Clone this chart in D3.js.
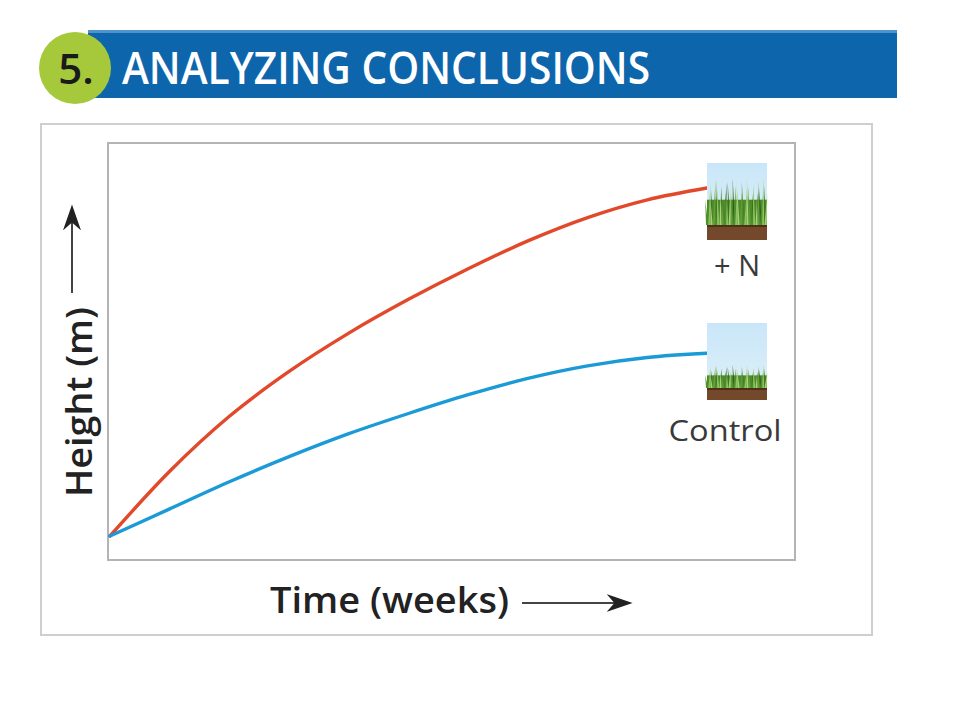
<!DOCTYPE html>
<html>
<head>
<meta charset="utf-8">
<script src="https://cdn.jsdelivr.net/npm/d3@7"></script>
<style>
  body { margin: 0; background: #fff; }
  svg { display: block; font-family: "Open Sans", "DejaVu Sans", sans-serif; }
</style>
</head>
<body>
<svg id="chart" width="960" height="720"></svg>
<script>
// Données (unités arbitraires)
const weeks = [0, 1, 2, 3, 4, 5, 6, 7, 8, 9, 10];
const heightNitrogen = [0, 1.86, 3.44, 4.73, 5.83, 6.8, 7.68, 8.48, 9.15, 9.66, 10];
const heightControl = [0, 0.78, 1.56, 2.28, 2.94, 3.52, 4.06, 4.53, 4.89, 5.13, 5.25];
const seriesNames = ['+N', 'Control'];
const seriesColors = ['#e2492a', '#1b9ad8'];

const svg = d3.select('#chart');
const defs = svg.append('defs');

// Bandeau de titre
svg.append('rect')
  .attr('x', 88).attr('y', 30).attr('width', 809).attr('height', 68)
  .attr('fill', '#0d66ac');
svg.append('rect')
  .attr('x', 88).attr('y', 30).attr('width', 809).attr('height', 3)
  .attr('fill', '#4f93c9');
svg.append('circle')
  .attr('cx', 75).attr('cy', 68).attr('r', 36)
  .attr('fill', '#a6c93c');
svg.append('text')
  .attr('x', 76).attr('y', 84)
  .attr('text-anchor', 'middle')
  .attr('font-size', 42).attr('font-weight', 600)
  .attr('fill', '#1a1a1a')
  .text('5.');
svg.append('text')
  .attr('x', 122).attr('y', 84)
  .attr('font-size', 45).attr('font-weight', 600)
  .attr('fill', '#fff')
  .attr('textLength', 528).attr('lengthAdjust', 'spacingAndGlyphs')
  .text('ANALYZING CONCLUSIONS');

// Cadre extérieur et cadre du graphe
svg.append('rect')
  .attr('x', 41).attr('y', 124).attr('width', 831).attr('height', 511)
  .attr('fill', '#fff').attr('stroke', '#cfcfcf').attr('stroke-width', 2);

const frame = { left: 108, top: 143, right: 795, bottom: 560 };
svg.append('rect')
  .attr('x', frame.left).attr('y', frame.top)
  .attr('width', frame.right - frame.left).attr('height', frame.bottom - frame.top)
  .attr('fill', '#fff').attr('stroke', '#b4b4b4').attr('stroke-width', 2);

// Échelles
const x = d3.scaleLinear().domain([0, 10]).range([110, 707]);
const y = d3.scaleLinear().domain([0, 10]).range([536, 188]);

const line = d3.line()
  .x((d, i) => x(weeks[i]))
  .y(d => y(d))
  .curve(d3.curveMonotoneX);

[heightNitrogen, heightControl].forEach((values, i) => {
  svg.append('path')
    .datum(values)
    .attr('d', line)
    .attr('fill', 'none')
    .attr('stroke', seriesColors[i])
    .attr('stroke-width', 3.4)
    .attr('stroke-linecap', 'round');
});

// Vignettes d'herbe (décor)
const sky = defs.append('linearGradient')
  .attr('id', 'sky').attr('x1', 0).attr('y1', 0).attr('x2', 0).attr('y2', 1);
sky.append('stop').attr('offset', 0).attr('stop-color', '#c9e6f8');
sky.append('stop').attr('offset', 1).attr('stop-color', '#dceff9');

const bladeColors = ['#4f8f2e', '#8cc35a', '#3b7222', '#a9d277', '#629f3a', '#2f6119'];

function grassTile(x0, y0, skyH, grassH, soilH) {
  const g = svg.append('g').attr('transform', `translate(${x0},${y0})`);
  const base = skyH + grassH;
  g.append('rect').attr('width', 60).attr('height', base).attr('fill', 'url(#sky)');
  g.append('rect').attr('y', base - grassH * 0.55).attr('width', 60).attr('height', grassH * 0.55)
    .attr('fill', '#4e8a2c');
  d3.range(40).forEach(k => {
    const bx = (k * 1.5 + (k % 3) * 0.7) % 60;
    const h = grassH * (0.55 + 0.45 * (((k * 7) % 10) / 9));
    const lean = ((k * 5) % 7) - 3;
    g.append('path')
      .attr('d', `M${bx - 1} ${base} L${bx + lean * 0.6} ${base - h} L${bx + 1.2} ${base} Z`)
      .attr('fill', bladeColors[k % bladeColors.length]);
  });
  g.append('rect').attr('y', base).attr('width', 60).attr('height', soilH).attr('fill', '#74482a');
  g.append('rect').attr('y', base).attr('width', 60).attr('height', 2).attr('fill', '#4e301a');
}
grassTile(707, 163, 16, 46, 15);
grassTile(707, 323, 42, 23, 12);

svg.append('text')
  .attr('x', 737).attr('y', 276)
  .attr('text-anchor', 'middle')
  .attr('font-size', 29).attr('fill', '#3a3a3a')
  .attr('textLength', 46).attr('lengthAdjust', 'spacing')
  .text(seriesNames[0]);
svg.append('text')
  .attr('x', 725).attr('y', 441)
  .attr('text-anchor', 'middle')
  .attr('font-size', 29).attr('fill', '#3a3a3a')
  .attr('textLength', 113).attr('lengthAdjust', 'spacingAndGlyphs')
  .text(seriesNames[1]);

// Flèches
defs.append('marker')
  .attr('id', 'arrow')
  .attr('viewBox', '0 0 10 10')
  .attr('refX', 9).attr('refY', 5)
  .attr('markerWidth', 26).attr('markerHeight', 18)
  .attr('markerUnits', 'userSpaceOnUse')
  .attr('orient', 'auto')
  .attr('preserveAspectRatio', 'none')
  .append('path').attr('d', 'M0 0 L10 5 L0 10 L3 5 Z').attr('fill', '#222');

// Titres des axes
svg.append('text')
  .attr('transform', 'translate(92,402) rotate(-90)')
  .attr('text-anchor', 'middle')
  .attr('font-size', 36).attr('font-weight', 600)
  .attr('fill', '#222')
  .attr('textLength', 190).attr('lengthAdjust', 'spacingAndGlyphs')
  .text('Height (m)');
svg.append('line')
  .attr('x1', 72).attr('y1', 293).attr('x2', 72).attr('y2', 207)
  .attr('stroke', '#444').attr('stroke-width', 2)
  .attr('marker-end', 'url(#arrow)');

svg.append('text')
  .attr('x', 270).attr('y', 613)
  .attr('font-size', 36).attr('font-weight', 600)
  .attr('fill', '#222')
  .attr('textLength', 239).attr('lengthAdjust', 'spacingAndGlyphs')
  .text('Time (weeks)');
svg.append('line')
  .attr('x1', 522).attr('y1', 603).attr('x2', 630).attr('y2', 603)
  .attr('stroke', '#444').attr('stroke-width', 2)
  .attr('marker-end', 'url(#arrow)');
</script>
</body>
</html>
